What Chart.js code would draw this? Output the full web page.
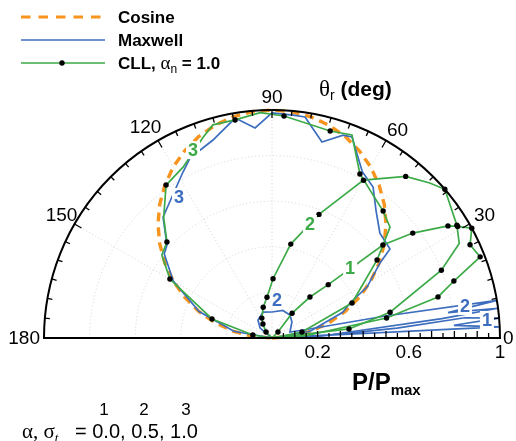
<!DOCTYPE html>
<html><head><meta charset="utf-8">
<script src="https://cdn.jsdelivr.net/npm/chart.js@4.4.1/dist/chart.umd.min.js"></script>
<style>html,body{margin:0;padding:0;background:#fff;overflow:hidden}canvas{display:block}</style>
</head><body>
<canvas id="c" width="516" height="441"></canvas>
<script>
// Reflected flux distribution P/Pmax against reflection angle θr (deg), half-polar plot

const angleTicks = [0, 30, 60, 90, 120, 150, 180];
const radiusTicks = [0.2, 0.6, 1];
const seriesNames = ['Cosine', 'Maxwell', 'CLL'];
const alphaN = '1.0';
const accommodation = ['0.0', '0.5', '1.0'];
const curveIds = ['1', '2', '3'];

// [θr in degrees, P/Pmax]
const cosine = [[0,0],[5,0.087],[10,0.174],[15,0.259],[20,0.342],[25,0.423],[30,0.5],[35,0.574],
  [40,0.643],[45,0.707],[50,0.766],[55,0.819],[60,0.866],[65,0.906],[70,0.94],[75,0.966],[80,0.985],
  [85,0.996],[90,1],[95,0.996],[100,0.985],[105,0.966],[110,0.94],[115,0.906],[120,0.866],[125,0.819],
  [130,0.766],[135,0.707],[140,0.643],[145,0.574],[150,0.5],[155,0.423],[160,0.342],[165,0.259],
  [170,0.174],[175,0.087],[180,0]];

const maxwell1 = [[0,0],[2.8,0.7],[2.8,1.0],[4,0.8],[5,1.0],[6,0.85],[4.5,0.55],[2,0.2],[0,0]];
const maxwell2 = [[0,0],[3,0.25],[6.5,0.75],[7.5,1.0],[8.2,0.78],[9.5,1.0],[11,0.5],[14,0.15],
  [18.4,0.083],[38.7,0.112],[52,0.128],[68.5,0.13],[90,0.114],[109,0.12],[128,0.1],[140,0.068],[180,0]];
const maxwell3 = [[0,0],[10,0.17],[20,0.33],[24.2,0.375],[28.2,0.473],[34.8,0.577],[37,0.648],
  [44.2,0.66],[50.9,0.723],[56.2,0.797],[61.5,0.83],[68.3,0.949],[70.7,0.943],[75.7,0.887],[81.5,0.98],
  [84.6,0.982],[90,0.987],[94.6,0.924],[99.5,0.978],[106.6,0.906],[114.5,0.867],[118.2,0.826],
  [132,0.714],[138.5,0.615],[142,0.6],[150,0.5],[160,0.34],[170,0.17],[180,0]];

const cll1 = [[0,0],[4,0.15],[9.9,0.51],[13.9,0.75],[17.4,0.836],[21.3,0.98],[25.2,0.96],[28.8,1.0],
  [31,0.95],[32.5,0.915],[36.7,0.77],[40,0.635],[43.5,0.34],[47.2,0.245],[51,0.14],[45,0.037],[0,0]];
const cll1Points = [[9.9,0.51],[13.9,0.75],[17.4,0.836],[21.3,0.98],[25.2,0.96],[28.8,1.0],[31,0.95],
  [32.5,0.915],[36.7,0.77],[40,0.635],[43.5,0.34],[47.2,0.245],[51,0.14],[45,0.037]];

const cll2 = [[0,0],[6.7,0.34],[12.3,0.53],[21.8,0.80],[26.8,0.92],[31.4,0.95],[40.7,1.0],[44.5,0.97],
  [50.4,0.92],[59.9,0.80],[69.2,0.58],[78.7,0.42],[89,0.26],[97,0.18],[106,0.14],[117,0.098],
  [123,0.073],[135,0.037],[180,0]];
const cll2Points = [[6.7,0.34],[12.3,0.53],[21.8,0.80],[31.4,0.95],[40.7,1.0],[50.4,0.92],[59.9,0.80],
  [69.2,0.58],[78.7,0.42],[89,0.26],[97,0.18],[106,0.14],[117,0.098],[123,0.073],[135,0.037]];

const cll3 = [[0,0],[11.3,0.134],[23.6,0.383],[36.6,0.574],[43.2,0.71],[48.8,0.74],[61.8,0.816],
  [68.5,0.957],[74.3,0.943],[86.9,0.975],[93,0.99],[99.6,0.97],[105.5,0.97],[109,0.93],[117.5,0.845],
  [124.7,0.816],[132,0.71],[137.6,0.624],[143,0.605],[150,0.517],[162.4,0.276],[171,0.085],[180,0]];
const cll3Points = [[11.3,0.134],[23.6,0.383],[36.6,0.574],[48.8,0.74],[61.8,0.816],[74.3,0.943],
  [86.9,0.975],[99.6,0.97],[124.7,0.816],[137.6,0.624],[150,0.517],[162.4,0.276],[171,0.085]];

const ORANGE = '#F7941E', BLUE = '#3C6DBE', GREEN = '#3DAA48';
const SANS = '"Liberation Sans", Arial, sans-serif';
const SERIF = '"Liberation Serif", "Times New Roman", serif';

const rad = d => d * Math.PI / 180;
const toXY = pts => pts.map(([t, p]) => ({ x: p * Math.cos(rad(t)), y: p * Math.sin(rad(t)) }));

const lineSet = (data, color, width, order, dash) => ({
  data: toXY(data), showLine: true, borderColor: color, borderWidth: width, borderDash: dash || [],
  pointRadius: 0, tension: 0, fill: false, order, clip: 6
});
const dotSet = data => ({
  data: toXY(data), showLine: false, pointRadius: 2.7, pointBackgroundColor: '#000',
  pointBorderWidth: 0, order: 0, clip: 6
});

// Curve tags placed on the curves: [text, colour, θr, P/Pmax]
const curveTags = [
  ['3', GREEN, 112.8, 0.894], ['3', BLUE, 123.4, 0.741], ['2', GREEN, 71.6, 0.527],
  ['1', GREEN, 41.9, 0.46], ['2', BLUE, 82.5, 0.168], ['2', BLUE, 9.4, 0.858], ['1', BLUE, 4.8, 0.946]
];
// small pixel nudges for the angle labels around the rim
const angleNudge = { 30: [2, -1], 60: [4, 3], 90: [0, 3], 120: [-5, 0], 150: [0, -1] };

function runs(ctx, x, y, parts, align) {
  let w = 0;
  parts.forEach(p => { ctx.font = p.font; w += ctx.measureText(p.t).width; });
  let cx = align === 'center' ? x - w / 2 : (align === 'right' ? x - w : x);
  ctx.textAlign = 'left';
  parts.forEach(p => {
    ctx.font = p.font; ctx.fillStyle = p.color || '#000';
    ctx.fillText(p.t, cx, y + (p.dy || 0));
    cx += ctx.measureText(p.t).width;
  });
}

const polarFrame = {
  id: 'polarFrame',
  beforeDatasetsDraw(chart) {
    const { ctx, scales: { x, y } } = chart;
    const cx = x.getPixelForValue(0), cy = y.getPixelForValue(0);
    const R = x.getPixelForValue(1) - cx;
    ctx.save();
    ctx.strokeStyle = '#c9c9c9'; ctx.lineWidth = 0.8; ctx.setLineDash([1, 2.5]);
    [0.2, 0.4, 0.6, 0.8].forEach(g => { ctx.beginPath(); ctx.arc(cx, cy, g * R, Math.PI, 2 * Math.PI); ctx.stroke(); });
    angleTicks.slice(1, -1).forEach(a => {
      ctx.beginPath(); ctx.moveTo(cx, cy);
      ctx.lineTo(cx + R * Math.cos(rad(a)), cy - R * Math.sin(rad(a))); ctx.stroke();
    });
    ctx.restore();
  },
  afterDatasetsDraw(chart) {
    const { ctx, scales: { x, y } } = chart;
    const cx = x.getPixelForValue(0), cy = y.getPixelForValue(0);
    const R = x.getPixelForValue(1) - cx;
    ctx.save();
    // curve tags
    ctx.textBaseline = 'middle'; ctx.textAlign = 'center';
    ctx.font = 'bold 18px ' + SANS;
    curveTags.forEach(([t, col, th, p]) => {
      const px = x.getPixelForValue(p * Math.cos(rad(th))), py = y.getPixelForValue(p * Math.sin(rad(th)));
      ctx.fillStyle = '#fff'; ctx.fillRect(px - 7, py - 9, 14, 18);
      ctx.fillStyle = col; ctx.fillText(t, px, py + 1);
    });
    // outer arc and baseline
    ctx.strokeStyle = '#000'; ctx.lineWidth = 2;
    ctx.beginPath(); ctx.arc(cx, cy, R, Math.PI, 2 * Math.PI); ctx.stroke();
    ctx.beginPath(); ctx.moveTo(cx - R - 1, cy); ctx.lineTo(cx + R + 1, cy); ctx.stroke();
    ctx.lineWidth = 1.3;
    for (let a = 5; a < 180; a += 5) {
      const len = a % 30 === 0 ? 8 : 5;
      const c = Math.cos(rad(a)), s = Math.sin(rad(a));
      ctx.beginPath(); ctx.moveTo(cx + R * c, cy - R * s); ctx.lineTo(cx + (R - len) * c, cy - (R - len) * s); ctx.stroke();
    }
    for (let i = 1; i < 20; i++) {
      const px = x.getPixelForValue(i * 0.05);
      const len = i % 2 === 0 ? 7 : 5;
      ctx.beginPath(); ctx.moveTo(px, cy); ctx.lineTo(px, cy - len); ctx.stroke();
    }
    // angle labels
    ctx.fillStyle = '#000'; ctx.font = '19px ' + SANS; ctx.textBaseline = 'middle';
    angleTicks.forEach(a => {
      if (a === 0) { ctx.textAlign = 'left'; ctx.fillText('0', cx + R + 3, cy + 1); return; }
      if (a === 180) { ctx.textAlign = 'right'; ctx.fillText('180', cx - R - 4, cy + 1); return; }
      ctx.textAlign = 'center';
      const rr = R + 15, [nx, ny] = angleNudge[a];
      ctx.fillText(String(a), cx + rr * Math.cos(rad(a)) + nx, cy - rr * Math.sin(rad(a)) + ny);
    });
    // radius labels
    ctx.textAlign = 'center'; ctx.font = '19px ' + SANS;
    radiusTicks.forEach(v => ctx.fillText(String(v), x.getPixelForValue(v), cy + 15));
    // axis titles
    ctx.textBaseline = 'alphabetic';
    runs(ctx, 352, 390, [{ t: 'P/P', font: 'bold 24px ' + SANS }, { t: 'max', font: 'bold 15px ' + SANS, dy: 5 }], 'left');
    runs(ctx, 319, 96, [{ t: 'θ', font: '23px ' + SERIF }, { t: 'r', font: '14px ' + SANS, dy: 4 },
      { t: ' (deg)', font: 'bold 21px ' + SANS }], 'left');
    // legend
    ctx.lineWidth = 3; ctx.strokeStyle = ORANGE; ctx.setLineDash([9.5, 8]);
    ctx.beginPath(); ctx.moveTo(21, 17); ctx.lineTo(106, 17); ctx.stroke();
    ctx.setLineDash([]); ctx.lineWidth = 1.6;
    ctx.strokeStyle = BLUE; ctx.beginPath(); ctx.moveTo(21, 40); ctx.lineTo(105, 40); ctx.stroke();
    ctx.strokeStyle = GREEN; ctx.beginPath(); ctx.moveTo(21, 63); ctx.lineTo(105, 63); ctx.stroke();
    ctx.fillStyle = '#000'; ctx.beginPath(); ctx.arc(62, 63, 2.7, 0, 2 * Math.PI); ctx.fill();
    runs(ctx, 118, 23, [{ t: seriesNames[0], font: 'bold 17px ' + SANS }], 'left');
    runs(ctx, 118, 46, [{ t: seriesNames[1], font: 'bold 17px ' + SANS }], 'left');
    runs(ctx, 118, 69, [{ t: seriesNames[2] + ', ', font: 'bold 17px ' + SANS }, { t: 'α', font: '19px ' + SERIF },
      { t: 'n', font: '12px ' + SANS, dy: 4 }, { t: ' = ' + alphaN, font: 'bold 17px ' + SANS }], 'left');
    // accommodation key
    runs(ctx, 22, 438, [{ t: 'α, σ', font: '21px ' + SERIF }, { t: 't', font: 'italic 13px ' + SERIF, dy: 4 }], 'left');
    runs(ctx, 75, 438, [{ t: '= ' + accommodation.join(', '), font: '20px ' + SANS }], 'left');
    ctx.font = '17px ' + SANS; ctx.textAlign = 'center';
    [104, 144, 186].forEach((px, i) => ctx.fillText(curveIds[i], px, 415));
    ctx.restore();
  }
};

new Chart(document.getElementById('c'), {
  type: 'scatter',
  data: {
    datasets: [
      lineSet(cosine, ORANGE, 3.4, 4, [9, 6]),
      lineSet(maxwell1, BLUE, 1.7, 3), lineSet(maxwell2, BLUE, 1.7, 3), lineSet(maxwell3, BLUE, 1.7, 3),
      lineSet(cll1, GREEN, 1.7, 2), lineSet(cll2, GREEN, 1.7, 2), lineSet(cll3, GREEN, 1.7, 2),
      dotSet(cll1Points), dotSet(cll2Points), dotSet(cll3Points)
    ]
  },
  options: {
    responsive: false, animation: false, events: [],
    layout: { padding: { left: 44, right: 16, top: 110, bottom: 103 } },
    scales: {
      x: { type: 'linear', min: -1, max: 1, display: false },
      y: { type: 'linear', min: 0, max: 1, display: false }
    },
    plugins: { legend: { display: false }, tooltip: { enabled: false } }
  },
  plugins: [polarFrame]
});
</script>
</body></html>
